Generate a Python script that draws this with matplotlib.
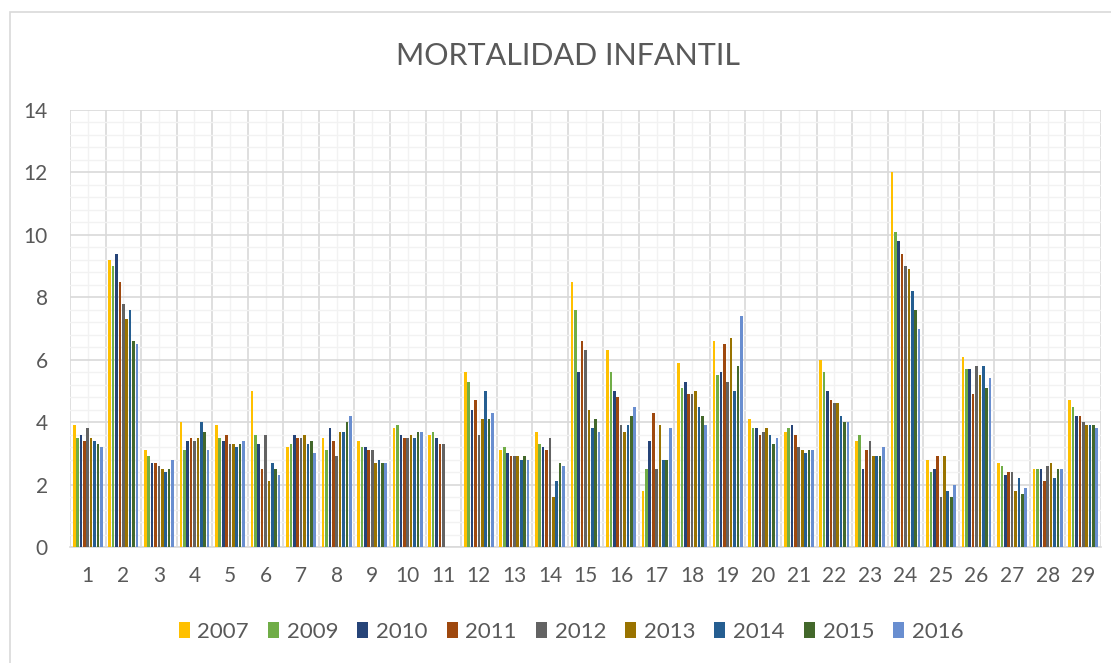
"""Mortalidad infantil bar chart"""

import numpy as np
import matplotlib
matplotlib.use("Agg")
import matplotlib.pyplot as plt
from matplotlib.patches import Rectangle
from matplotlib.ticker import MultipleLocator

nan = np.nan

groups = list(range(1, 30))
years = ["2007", "2009", "2010", "2011", "2012", "2013", "2014", "2015", "2016"]
colors = ["#FFC000", "#70AD47", "#264478", "#9E480E", "#636363",
          "#997300", "#255E91", "#43682B", "#698ED0"]

# one row per group, one column per year
values = [
    [3.9, 3.5, 3.6, 3.4, 3.8, 3.5, 3.4, 3.3, 3.2],
    [9.2, 9.0, 9.4, 8.5, 7.8, 7.3, 7.6, 6.6, 6.5],
    [3.1, 2.9, 2.7, 2.7, 2.6, 2.5, 2.4, 2.5, 2.8],
    [4.0, 3.1, 3.4, 3.5, 3.4, 3.5, 4.0, 3.7, 3.1],
    [3.9, 3.5, 3.4, 3.6, 3.3, 3.3, 3.2, 3.3, 3.4],
    [5.0, 3.6, 3.3, 2.5, 3.6, 2.1, 2.7, 2.5, 2.3],
    [3.2, 3.3, 3.6, 3.5, 3.5, 3.6, 3.3, 3.4, 3.0],
    [3.5, 3.1, 3.8, 3.4, 2.9, 3.7, 3.7, 4.0, 4.2],
    [3.4, 3.2, 3.2, 3.1, 3.1, 2.7, 2.8, 2.7, 2.7],
    [3.8, 3.9, 3.6, 3.5, 3.5, 3.6, 3.5, 3.7, 3.7],
    [3.6, 3.7, 3.5, 3.3, 3.3, nan, nan, nan, nan],
    [5.6, 5.3, 4.4, 4.7, 3.6, 4.1, 5.0, 4.1, 4.3],
    [3.1, 3.2, 3.0, 2.9, 2.9, 2.9, 2.8, 2.9, 2.8],
    [3.7, 3.3, 3.2, 3.1, 3.5, 1.6, 2.1, 2.7, 2.6],
    [8.5, 7.6, 5.6, 6.6, 6.3, 4.4, 3.8, 4.1, 3.7],
    [6.3, 5.6, 5.0, 4.8, 3.9, 3.7, 3.9, 4.2, 4.5],
    [1.8, 2.5, 3.4, 4.3, 2.5, 3.9, 2.8, 2.8, 3.8],
    [5.9, 5.1, 5.3, 4.9, 4.9, 5.0, 4.5, 4.2, 3.9],
    [6.6, 5.5, 5.6, 6.5, 5.3, 6.7, 5.0, 5.8, 7.4],
    [4.1, 3.8, 3.8, 3.6, 3.7, 3.8, 3.6, 3.3, 3.5],
    [3.7, 3.8, 3.9, 3.6, 3.2, 3.1, 3.0, 3.1, 3.1],
    [6.0, 5.6, 5.0, 4.7, 4.6, 4.6, 4.2, 4.0, 4.0],
    [3.4, 3.6, 2.5, 3.1, 3.4, 2.9, 2.9, 2.9, 3.2],
    [12.0, 10.1, 9.8, 9.4, 9.0, 8.9, 8.2, 7.6, 7.0],
    [2.8, 2.4, 2.5, 2.9, 1.6, 2.9, 1.8, 1.6, 2.0],
    [6.1, 5.7, 5.7, 4.9, 5.8, 5.5, 5.8, 5.1, 5.4],
    [2.7, 2.6, 2.3, 2.4, 2.4, 1.8, 2.2, 1.7, 1.9],
    [2.5, 2.5, 2.5, 2.1, 2.6, 2.7, 2.2, 2.5, 2.5],
    [4.7, 4.5, 4.2, 4.2, 4.0, 3.9, 3.9, 3.9, 3.8],
]

text_color = "#595959"
plt.rcParams['font.family'] = ['Lato', 'DejaVu Sans']

fig = plt.figure(figsize=(11.11, 6.63), dpi=100)
fig.patches.append(Rectangle((10 / 1111, -0.05), 1.1, 1 - 12 / 663 + 0.05,
                             transform=fig.transFigure, fill=False,
                             edgecolor="#D9D9D9", linewidth=1.2))

ax = fig.add_axes([70 / 1111, 1 - 547 / 663, 1031 / 1111, 437 / 663])

data = np.array(values)
x = np.arange(1, len(groups) + 1)
n = len(years)
slot = 0.86 / n
for i, (year, color) in enumerate(zip(years, colors)):
    offset = (i - (n - 1) / 2) * slot
    ax.bar(x + offset, data[:, i], width=slot * 0.78, color=color,
           label=year, zorder=3)

ax.set_xlim(0.5, len(groups) + 0.5)
ax.set_ylim(0, 14)
ax.yaxis.set_major_locator(MultipleLocator(2))
ax.yaxis.set_minor_locator(MultipleLocator(0.4))
ax.set_xticks(x)
ax.set_xticklabels([str(g) for g in groups])
ax.set_xticks(np.arange(0.5, len(groups) + 1, 1.0), minor=True)

ax.grid(True, which="major", axis="y", color="#D9D9D9", linewidth=1.2, zorder=0)
ax.grid(True, which="minor", axis="y", color="#F2F2F2", linewidth=1.0, zorder=0)
ax.grid(True, which="minor", axis="x", color="#D9D9D9", linewidth=1.2, zorder=0)
ax.grid(True, which="major", axis="x", color="#F2F2F2", linewidth=1.0, zorder=0)

for side in ["top", "right", "left"]:
    ax.spines[side].set_visible(False)
ax.spines["bottom"].set_color("#D9D9D9")
ax.spines["bottom"].set_linewidth(1.2)

ax.tick_params(which="both", length=0, labelsize=15, labelcolor=text_color)
ax.tick_params(axis="x", pad=14)
ax.tick_params(axis="y", pad=16)

fig.suptitle("MORTALIDAD INFANTIL", x=0.511, y=1 - 56 / 663, va="center",
             fontsize=22, color=text_color)

leg = ax.legend(loc="center", bbox_to_anchor=((571 - 70) / 1031, (632 - 547) / -437),
                ncol=n, frameon=False, fontsize=16, handlelength=0.5,
                handleheight=0.75, handletextpad=0.35, columnspacing=0.85)
for t in leg.get_texts():
    t.set_color(text_color)

fig.savefig("out.png", dpi=100)
